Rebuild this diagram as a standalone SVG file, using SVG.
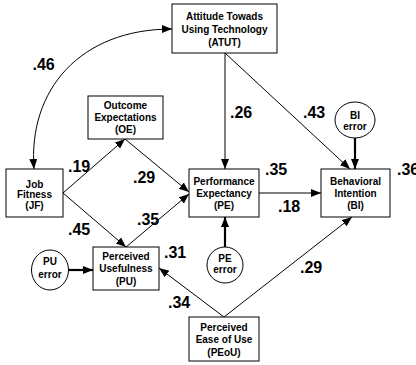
<svg xmlns="http://www.w3.org/2000/svg" width="416" height="365" viewBox="0 0 416 365">
  <style>
    .box { fill: #fff; stroke: #000; stroke-width: 1; }
    .err { fill: #fff; stroke: #000; stroke-width: 1; }
    .t { font-family: "Liberation Sans", Arial, sans-serif; font-weight: bold; font-size: 10px; text-anchor: middle; fill: #000; }
    .c { font-family: "Liberation Sans", Arial, sans-serif; font-weight: bold; font-size: 16px; fill: #000; }
    .ln { fill: none; stroke: #000; stroke-width: 1; marker-end: url(#ah); }
    .thick { fill: none; stroke: #000; stroke-width: 2.2; marker-end: url(#ah); }
  </style>
  <defs>
    <marker id="ah" markerUnits="userSpaceOnUse" markerWidth="11" markerHeight="9" refX="10" refY="4" orient="auto">
      <path d="M0,0 L10,4 L0,8 z" fill="#000"/>
    </marker>
    <marker id="ahs" markerUnits="userSpaceOnUse" markerWidth="11" markerHeight="9" refX="10" refY="4" orient="auto-start-reverse">
      <path d="M0,0 L10,4 L0,8 z" fill="#000"/>
    </marker>
  </defs>

  <!-- paths between constructs -->
  <g id="connectors">
    <path d="M34,169 C28,90 80,29 172,29" fill="none" stroke="#000" stroke-width="1" marker-start="url(#ahs)" marker-end="url(#ahs)"/>
    <path class="ln" d="M225,53 L225,169"/>
    <path class="ln" d="M225,53 L350,169"/>
    <path class="thick" d="M355,138 L355,169"/>
    <path class="ln" d="M63,193 L125,139"/>
    <path class="ln" d="M63,193 L126,247"/>
    <path class="ln" d="M125,139 L189,192"/>
    <path class="ln" d="M126,247 L189,194"/>
    <path class="ln" d="M259,193 L321,193"/>
    <path class="thick" d="M225,247 L225,217"/>
    <path class="thick" d="M69,270 L93,270"/>
    <path class="ln" d="M224,317 L159,268"/>
    <path class="ln" d="M224,317 L352,217"/>
  </g>

  <g id="ATUT">
    <rect class="box" x="172" y="4" width="105" height="49"/>
    <text class="t" x="224.5" y="19.8">Attitude Towads</text>
    <text class="t" x="224.5" y="32.8">Using Technology</text>
    <text class="t" x="224.5" y="46">(ATUT)</text>
  </g>
  <g id="OE">
    <rect class="box" x="88" y="96" width="75" height="43"/>
    <text class="t" x="125.5" y="109">Outcome</text>
    <text class="t" x="125.5" y="121">Expectations</text>
    <text class="t" x="125.5" y="133">(OE)</text>
  </g>
  <g id="JF">
    <rect class="box" x="6" y="169" width="57" height="48"/>
    <text class="t" x="34.5" y="187.5">Job</text>
    <text class="t" x="34.5" y="198">Fitness</text>
    <text class="t" x="34.5" y="209">(JF)</text>
  </g>
  <g id="PE">
    <rect class="box" x="189" y="169" width="70" height="48"/>
    <text class="t" x="224" y="185.3">Performance</text>
    <text class="t" x="224" y="197">Expectancy</text>
    <text class="t" x="224" y="208.6">(PE)</text>
  </g>
  <g id="BI">
    <rect class="box" x="321" y="169" width="69" height="48"/>
    <text class="t" x="355.5" y="184.5">Behavioral</text>
    <text class="t" x="355.5" y="196.5">Intention</text>
    <text class="t" x="355.5" y="208.6">(BI)</text>
  </g>
  <g id="PU">
    <rect class="box" x="93" y="247" width="66" height="43"/>
    <text class="t" x="126" y="259.6">Perceived</text>
    <text class="t" x="126" y="272">Usefulness</text>
    <text class="t" x="126" y="285">(PU)</text>
  </g>
  <g id="PEoU">
    <rect class="box" x="189" y="317" width="70" height="44"/>
    <text class="t" x="224" y="331">Perceived</text>
    <text class="t" x="224" y="342.6">Ease of Use</text>
    <text class="t" x="224" y="355.5">(PEoU)</text>
  </g>
  <g id="BI-error">
    <ellipse class="err" cx="355" cy="120" rx="20" ry="18"/>
    <text class="t" x="355" y="118.6">BI</text>
    <text class="t" x="355" y="130.3">error</text>
  </g>
  <g id="PU-error">
    <ellipse class="err" cx="50" cy="270" rx="18.5" ry="20"/>
    <text class="t" x="50" y="265.3">PU</text>
    <text class="t" x="50" y="278">error</text>
  </g>
  <g id="PE-error">
    <ellipse class="err" cx="225" cy="265" rx="18" ry="18"/>
    <text class="t" x="225" y="262">PE</text>
    <text class="t" x="225" y="273">error</text>
  </g>

  <!-- path coefficients -->
  <g id="coefficients">
    <text class="c" x="32.5" y="70">.46</text>
    <text class="c" x="230" y="118">.26</text>
    <text class="c" x="303" y="118">.43</text>
    <text class="c" x="68" y="172">.19</text>
    <text class="c" x="133" y="183">.29</text>
    <text class="c" x="265" y="175">.35</text>
    <text class="c" x="397" y="175">.36</text>
    <text class="c" x="278" y="212">.18</text>
    <text class="c" x="137" y="225">.35</text>
    <text class="c" x="68" y="235">.45</text>
    <text class="c" x="164" y="258">.31</text>
    <text class="c" x="300" y="273">.29</text>
    <text class="c" x="168" y="308">.34</text>
  </g>
</svg>
